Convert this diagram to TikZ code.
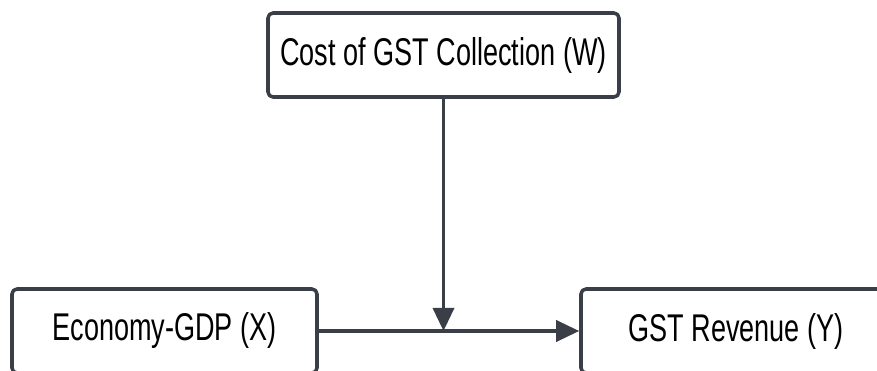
\documentclass[tikz,border=0pt]{standalone}
\usepackage{fontspec}
\newfontfamily\boxfont[FakeStretch=0.7]{Liberation Sans}
\usetikzlibrary{arrows.meta}
\definecolor{edgegray}{HTML}{3A3F47}
\begin{document}
\begin{tikzpicture}[>={Triangle[length=0.46cm,width=0.42cm]}, line join=round,
    varbox/.style={draw=edgegray, line width=2pt, rounded corners=0.1cm, fill=white,
        minimum height=1.68cm, inner sep=0pt, font=\boxfont\fontsize{22}{26}\selectfont},
    link/.style={draw=edgegray, line width=2pt, ->}]
    \def\xw{17.54} \def\yh{-7.42}
    \useasboundingbox (0,0) rectangle (\xw,\yh);
    \clip (0,0) rectangle (\xw,\yh);
    % variables
    \node[varbox, minimum width=7.02cm] (cost) at (8.87,-1.10) {Cost of GST Collection (W)};
    \node[varbox, minimum width=6.10cm] (gdp) at (3.29,-6.62) {Economy-GDP (X)};
    \node[varbox, minimum width=6.20cm] (rev) at (14.72,-6.62) {GST Revenue (Y)};
    \coordinate (mid) at (cost.south |- gdp.east);
    % paths
    \draw[link] (gdp.east) -- (rev.west);
    \draw[link] (cost.south) -- (mid);
\end{tikzpicture}
\end{document}
